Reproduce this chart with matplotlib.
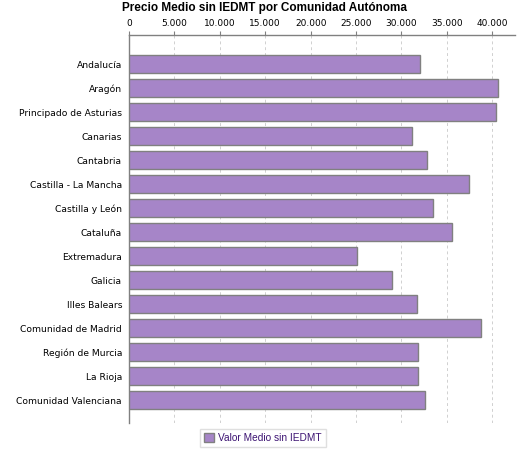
import numpy as np
import matplotlib
matplotlib.use('Agg')
import matplotlib.pyplot as plt
from matplotlib.ticker import FuncFormatter
from matplotlib.patches import Patch

# data
regions = ['Andalucía', 'Aragón', 'Principado de Asturias', 'Canarias', 'Cantabria',
           'Castilla - La Mancha', 'Castilla y León', 'Cataluña', 'Extremadura',
           'Galicia', 'Illes Balears', 'Comunidad de Madrid', 'Región de Murcia',
           'La Rioja', 'Comunidad Valenciana']
values = [32080, 40660, 40440, 31120, 32850,
          37470, 33510, 35600, 25140,
          29000, 31750, 38790, 31860,
          31860, 32630]
xticks = [0, 5000, 10000, 15000, 20000, 25000, 30000, 35000, 40000]
series_name = 'Valor Medio sin IEDMT'

W, H = 525, 450
fig = plt.figure(figsize=(W/100, H/100), dpi=100)
# axes box in pixels: left 129, right 515, top 35, bottom 423
ax = fig.add_axes([129/W, 1-423/H, (515-129)/W, (423-35)/H])

y = np.arange(len(regions))
ax.barh(y, values, height=0.75, color='#a685c8', edgecolor='#808080', linewidth=1.0, zorder=3)

ax.set_xlim(0, 42500)
ax.set_ylim(14.95, -1.22)
ax.set_yticks(y)
ax.set_yticklabels(regions, fontsize=6.6, family='DejaVu Sans')
ax.set_xticks(xticks)
ax.xaxis.set_major_formatter(FuncFormatter(lambda v, p: '{:,.0f}'.format(v).replace(',', '.')))
ax.xaxis.tick_top()
ax.tick_params(axis='x', labelsize=6.5, length=3, color='#808080', pad=2)
ax.tick_params(axis='y', length=0, pad=5)
ax.grid(axis='x', color='#d0d0d0', linestyle=(0, (3, 3)), linewidth=0.7, zorder=0)

for s in ['right', 'bottom']:
    ax.spines[s].set_visible(False)
for s in ['top', 'left']:
    ax.spines[s].set_color('#808080')
    ax.spines[s].set_linewidth(1.0)

fig.text(265/W, 1-8/H, 'Precio Medio sin IEDMT por Comunidad Autónoma',
         ha='center', va='center', fontsize=8.5, fontweight='bold', family='Liberation Sans')

handle = Patch(facecolor='#a685c8', edgecolor='#808080', label=series_name)
leg = fig.legend(handles=[handle], loc='center', bbox_to_anchor=(263/W, 1-438/H),
                 frameon=True, fancybox=False, handlelength=1.0, handleheight=1.0,
                 handletextpad=0.4, borderpad=0.4, prop={'family': 'Liberation Sans', 'size': 7.3})
leg.get_frame().set_edgecolor('#d8d8d8')
leg.get_frame().set_linewidth(1.0)
for t in leg.get_texts():
    t.set_color('#3d1473')

fig.savefig('out.png', dpi=100)
